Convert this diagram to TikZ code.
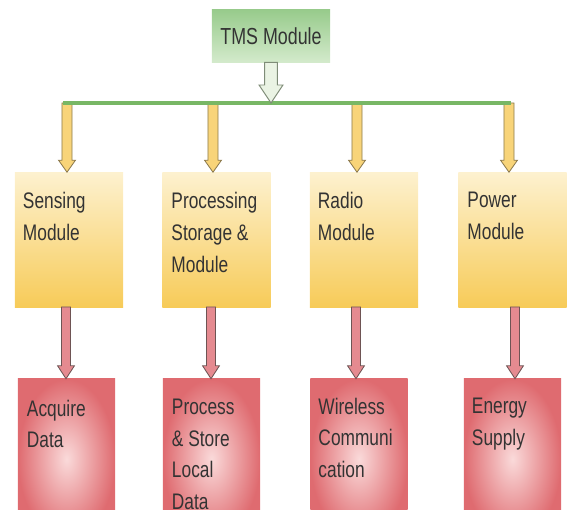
\documentclass[tikz,border=0pt]{standalone}
\usepackage{fontspec}
\setmainfont{Liberation Sans}[FakeStretch=0.77]
\usetikzlibrary{calc}
\definecolor{tmstop}{HTML}{98CB8C}
\definecolor{tmsbot}{HTML}{D3EACB}
\definecolor{modtop}{HTML}{FDF1CF}
\definecolor{modbot}{HTML}{F7CB58}
\definecolor{taskin}{HTML}{FADADA}
\definecolor{taskout}{HTML}{DF6B70}
\definecolor{ylwfill}{HTML}{F8D479}
\definecolor{ylwline}{HTML}{8C7A4E}
\definecolor{redfill}{HTML}{E58A90}
\definecolor{redline}{HTML}{6E5454}
\definecolor{busgreen}{HTML}{78B765}
\definecolor{tmsfill}{HTML}{EAF3E4}
\definecolor{tmsline}{HTML}{7F8C78}
\definecolor{textgray}{HTML}{333333}
\tikzset{
	arrshaft/.store in=\arrshaft, arrhead/.store in=\arrhead, arrtip/.store in=\arrtip,
	arrshaft=3.5pt, arrhead=6pt, arrtip=9pt,
	blockarrow/.style={to path={let \p1=(\tikztostart), \p2=(\tikztotarget) in
		(\x1-\arrshaft,\y1) -- (\x1+\arrshaft,\y1) -- (\x1+\arrshaft,\y2+\arrtip) -- (\x1+\arrhead,\y2+\arrtip)
		-- (\x1,\y2) -- (\x1-\arrhead,\y2+\arrtip) -- (\x1-\arrshaft,\y2+\arrtip) -- cycle}},
	tmsarrow/.style={blockarrow, arrshaft=4.6pt, arrhead=8.5pt, arrtip=12.8pt, draw=tmsline, fill=tmsfill, line width=0.7pt},
	yarrow/.style={blockarrow, arrshaft=3.6pt, arrhead=6pt, arrtip=8.5pt, draw=ylwline, fill=ylwfill, line width=0.6pt},
	rarrow/.style={blockarrow, arrshaft=3.2pt, arrhead=6pt, arrtip=9.2pt, draw=redline, fill=redfill, line width=0.6pt},
	bus/.style={busgreen, line width=3.2pt},
	tmsbox/.style={rectangle, minimum width=2.95cm, minimum height=1.3cm, top color=tmstop, bottom color=tmsbot, text=textgray, font=\fontsize{16.5}{18}\selectfont},
	modbox/.style={rectangle, minimum width=2.7cm, minimum height=3.375cm, top color=modtop, bottom color=modbot},
	taskbox/.style={rectangle, minimum width=2.425cm, minimum height=4cm, inner color=taskin, outer color=taskout},
	boxtext/.style={anchor=north west, inner sep=0pt, align=left, text=textgray, font=\fontsize{16}{22.5}\selectfont}
}
\begin{document}
\begin{tikzpicture}[x=0.025cm, y=-0.025cm]
	\useasboundingbox (0,0) rectangle (573,510);
	\clip (0,0) rectangle (573,510);
		\node (tms) at (271,36) [tmsbox] {TMS Module};
		
			\node	(sense) at (69,240) [modbox] {};
			\node	(store) at (216.5,240) [modbox] {};
			\node	(radio) at (364,240) [modbox] {};
			\node	(power) at (512.5,240) [modbox] {};
			\node	(acq) at (66.5,459) [taskbox] {};
			\node	(proc) at (211.5,459) [taskbox] {};
			\node	(wire) at (359,459) [taskbox] {};
			\node	(energy) at (512.5,459) [taskbox] {};
			
			\node	(sense-t) at ([xshift=0.2cm,yshift=-0.5cm]sense.north west) [boxtext] {Sensing\\Module};
			\node	(store-t) at ([xshift=0.225cm,yshift=-0.5cm]store.north west) [boxtext] {Processing\\Storage \&\\Module};
			\node	(radio-t) at ([xshift=0.2cm,yshift=-0.5cm]radio.north west) [boxtext] {Radio\\Module};
			\node	(power-t) at ([xshift=0.225cm,yshift=-0.5cm]power.north west) [boxtext] {Power\\Module};
			\node	(acq-t) at ([xshift=0.225cm,yshift=-0.525cm]acq.north west) [boxtext] {Acquire\\Data};
			\node	(proc-t) at ([xshift=0.225cm,yshift=-0.5cm]proc.north west) [boxtext] {Process\\\& Store\\Local\\Data};
			\node	(wire-t) at ([xshift=0.2cm,yshift=-0.475cm]wire.north west) [boxtext] {Wireless\\Communi\\cation};
			\node	(energy-t) at ([xshift=0.2cm,yshift=-0.475cm]energy.north west) [boxtext] {Energy\\Supply};
			
			\coordinate (bus-w) at (63,103);
			\coordinate (bus-e) at (511,103);
			\coordinate (b1) at (67,103);
			\coordinate (b2) at (213,103);
			\coordinate (b3) at (357,103);
			\coordinate (b4) at (509,103);
			\coordinate (s1) at (66,307);
			\coordinate (s2) at (211,307);
			\coordinate (s3) at (356,307);
			\coordinate (s4) at (515,307);
			
			\draw 
			(b1) edge[yarrow] (b1 |- sense.north)
			(b2) edge[yarrow] (b2 |- store.north)
			(b3) edge[yarrow] (b3 |- radio.north)
			(b4) edge[yarrow] (b4 |- power.north)
			(s1) edge[rarrow] (s1 |- acq.north)
			(s2) edge[rarrow] (s2 |- proc.north)
			(s3) edge[rarrow] (s3 |- wire.north)
			(s4) edge[rarrow] (s4 |- energy.north)
			;
			\draw[bus] (bus-w) -- (bus-e);
			\draw (tms.south) edge[tmsarrow] (tms.south |- bus-w);
		\end{tikzpicture}
\end{document}
